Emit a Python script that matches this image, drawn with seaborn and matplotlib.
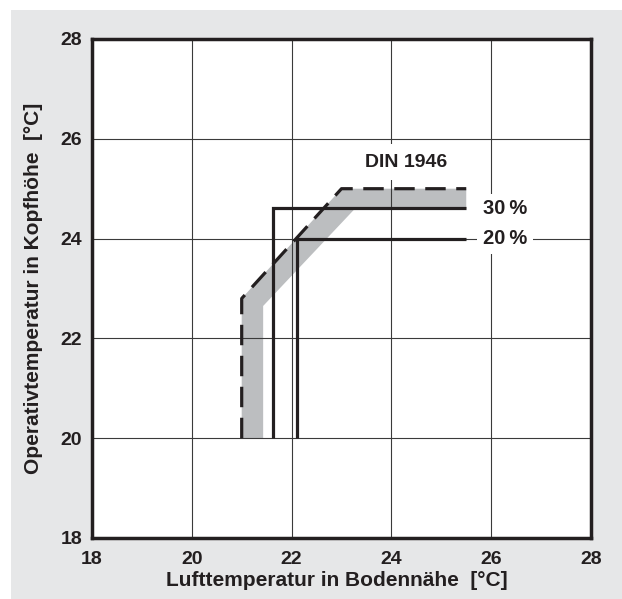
import numpy as np
import pandas as pd
import matplotlib
matplotlib.use("Agg")
import matplotlib.pyplot as plt
import seaborn as sns
from matplotlib.patches import Rectangle

# ---- data ----
band_x = [21.0, 21.0, 23.0, 25.5, 25.5, 23.27, 21.43, 21.43]
band_y = [20.0, 22.8, 25.0, 25.0, 24.6, 24.6, 22.65, 20.0]
din_x = [21.0, 21.0, 23.0, 25.5]
din_y = [20.0, 22.8, 25.0, 25.0]
rh30_x = [21.63, 21.63, 25.5]
rh30_y = [20.0, 24.62, 24.62]
rh20_x = [22.1, 22.1, 25.5]
rh20_y = [20.0, 24.0, 24.0]
x_ticks = [18, 20, 22, 24, 26, 28]
y_ticks = [18, 20, 22, 24, 26, 28]
label_din = "DIN 1946"
label_30 = "30\u2009%"
label_20 = "20\u2009%"
x_label = "Lufttemperatur in Bodennähe  [°C]"
y_label = "Operativtemperatur in Kopfhöhe  [°C]"

sns.set_style("white")
plt.rcParams["font.family"] = ["Liberation Sans", "DejaVu Sans"]
plt.rcParams["font.weight"] = "bold"

INK = "#231f20"
W, H = 622, 599
fig = plt.figure(figsize=(W / 100, H / 100), dpi=100, facecolor="white")
fig.patches.append(Rectangle((11 / W, 0), 1, (H - 10) / H, transform=fig.transFigure,
                             facecolor="#e6e7e8", edgecolor="none", zorder=-10))

ax_l, ax_r, ax_t, ax_b = 92, 591, 39, 538
ax = fig.add_axes([ax_l / W, (H - ax_b) / H, (ax_r - ax_l) / W, (ax_b - ax_t) / H])
ax.set_facecolor("white")

ax.fill(band_x, band_y, color="#bcbec0", lw=0, zorder=0.2)

df_din = pd.DataFrame({"x": din_x, "y": din_y})
df30 = pd.DataFrame({"x": rh30_x, "y": rh30_y})
df20 = pd.DataFrame({"x": rh20_x, "y": rh20_y})
sns.lineplot(data=df_din, x="x", y="y", sort=False, estimator=None, ax=ax, color=INK,
             lw=2.3, linestyle=(0, (6.4, 3.3)), dash_capstyle="butt", zorder=2)
sns.lineplot(data=df30, x="x", y="y", sort=False, estimator=None, ax=ax, color=INK,
             lw=2.3, solid_joinstyle="miter", solid_capstyle="butt", zorder=2)
sns.lineplot(data=df20, x="x", y="y", sort=False, estimator=None, ax=ax, color=INK,
             lw=2.3, solid_joinstyle="miter", solid_capstyle="butt", zorder=2)

ax.set_xlim(18, 28)
ax.set_ylim(18, 28)
ax.set_xticks(x_ticks)
ax.set_yticks(y_ticks)
ax.set_xticklabels([str(t) for t in x_ticks])
ax.set_yticklabels([str(t) for t in y_ticks])
ax.set_axisbelow(True)
ax.grid(True, color="#3a3a3a", lw=0.8)
ax.tick_params(axis="both", length=0, labelsize=14, colors=INK)
ax.tick_params(axis="x", pad=9)
ax.tick_params(axis="y", pad=7)
for lab in ax.get_xticklabels() + ax.get_yticklabels():
    lab.set_fontweight("bold")

for sp in ax.spines.values():
    sp.set_visible(True)
    sp.set_linewidth(2.5)
    sp.set_color(INK)
    sp.set_zorder(5)

bbox = dict(facecolor="white", edgecolor="none", pad=4)
ax.text(24.3, 25.53, label_din, ha="center", va="center", fontsize=14,
        fontweight="bold", color=INK, bbox=dict(facecolor="white", edgecolor="none", pad=7),
        zorder=3)
ax.text(26.28, 24.6, label_30, ha="center", va="center", fontsize=14.5,
        fontweight="bold", color=INK, bbox=bbox, zorder=3)
ax.text(26.28, 24.0, label_20, ha="center", va="center", fontsize=14.5,
        fontweight="bold", color=INK, bbox=bbox, zorder=3)

ax.set_xlabel(x_label, fontsize=15, fontweight="bold", color=INK)
ax.set_ylabel(y_label, fontsize=15, fontweight="bold", color=INK)
ax.xaxis.set_label_coords(0.49, -0.066)
ax.yaxis.set_label_coords(-0.098, 0.5)

fig.savefig("out.png", dpi=100, facecolor=fig.get_facecolor())
